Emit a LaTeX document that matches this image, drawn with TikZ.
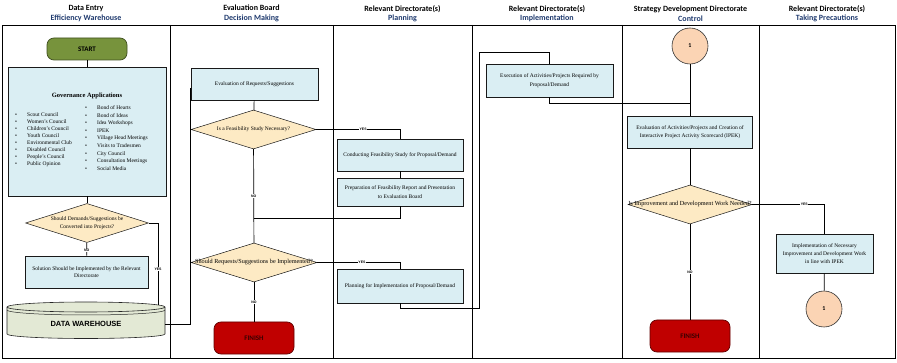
\documentclass[tikz,border=0pt]{standalone}
\usepackage{fontspec}
\setmainfont{Liberation Serif}
\newfontfamily\hdrfont{Carlito}
\newfontfamily\arfont{Liberation Sans}
\usetikzlibrary{shapes.geometric}
\definecolor{boxblue}{HTML}{DAEEF3}
\definecolor{decfill}{HTML}{FDEAC4}
\definecolor{startg}{HTML}{77933C}
\definecolor{startb}{HTML}{3F4F1F}
\definecolor{finr}{HTML}{C00000}
\definecolor{finb}{HTML}{600000}
\definecolor{fintxt}{HTML}{3A0000}
\definecolor{peach}{HTML}{FBD4B4}
\definecolor{dwfill}{HTML}{E3E9D5}
\definecolor{navy}{HTML}{1F3A6E}
\begin{document}
\begin{tikzpicture}[x=1pt,y=-1pt,
  lane/.style={line width=0.7pt, black},
  conn/.style={line width=0.7pt, black},
  procbox/.style={draw=black!90, line width=0.7pt, fill=boxblue, align=center, inner sep=1pt, font=\fontsize{5.5}{8.5}\selectfont},
  decbox/.style={diamond, draw=black!90, line width=0.5pt, fill=decfill, inner sep=0pt},
  dectext/.style={align=center, inner sep=0pt, font=\fontsize{5.5}{8}\selectfont},
  termbox/.style={draw, rounded corners=7pt, line width=0.7pt, minimum width=80pt, font=\hdrfont\bfseries\fontsize{7}{8}\selectfont},
  connc/.style={circle, draw=black!80, line width=0.6pt, fill=peach, minimum size=36pt, inner sep=0pt, font=\hdrfont\bfseries\fontsize{6}{7}\selectfont},
  yn/.style={fill=white, inner sep=0.4pt, font=\arfont\bfseries\fontsize{3.5}{4}\selectfont},
  hdr/.style={align=center, font=\hdrfont\bfseries\fontsize{8}{9.5}\selectfont},
  listtext/.style={align=left, inner sep=0pt, anchor=north west}
]
\useasboundingbox (0,0) rectangle (897,363);
% lanes
\draw[lane] (2,25) -- (895,25) -- (895,358) -- (2,358) -- cycle;
\foreach \xx in {170,333,472,622,759} \draw[lane] (\xx,25) -- (\xx,358);
% headers
\node[hdr] (h1) at (86,13.5) {Data Entry\\\textcolor{navy}{Efficiency Warehouse}};
\node[hdr] (h2) at (251.5,13.5) {Evaluation Board\\\textcolor{navy}{Decision Making}};
\node[hdr] (h3) at (402.5,13.5) {Relevant Directorate(s)\\\textcolor{navy}{Planning}};
\node[hdr] (h4) at (547,13.5) {Relevant Directorate(s)\\\textcolor{navy}{Implementation}};
\node[hdr] (h5) at (690.5,13.5) {Strategy Development Directorate\\\textcolor{navy}{Control}};
\node[hdr] (h6) at (827,13.5) {Relevant Directorate(s)\\\textcolor{navy}{Taking Precautions}};

% lane 1
\node[termbox, fill=startg, draw=startb, minimum height=22pt] (start) at (87,49) {START};
\node[procbox, minimum width=158pt, minimum height=129pt] (gov) at (87,131.5) {};
\node[font=\bfseries\fontsize{6.5}{7}\selectfont, inner sep=0pt] (govt) at (87,96) {Governance Applications};
\node[listtext, font=\fontsize{5.5}{7}\selectfont] (govl) at (15,112.5) {%
\makebox[12pt][l]{\textbullet}Scout Council\\
\makebox[12pt][l]{\textbullet}Women's Council\\
\makebox[12pt][l]{\textbullet}Children's Council\\
\makebox[12pt][l]{\textbullet}Youth Council\\
\makebox[12pt][l]{\textbullet}Environmental Club\\
\makebox[12pt][l]{\textbullet}Disabled Council\\
\makebox[12pt][l]{\textbullet}People's Council\\
\makebox[12pt][l]{\textbullet}Public Opinion};
\node[listtext, font=\fontsize{5.5}{7.6}\selectfont] (govr) at (85,105.5) {%
\makebox[12pt][l]{\textbullet}Bond of Hearts\\
\makebox[12pt][l]{\textbullet}Bond of Ideas\\
\makebox[12pt][l]{\textbullet}Idea Workshops\\
\makebox[12pt][l]{\textbullet}IPEK\\
\makebox[12pt][l]{\textbullet}Village Head Meetings\\
\makebox[12pt][l]{\textbullet}Visits to Tradesmen\\
\makebox[12pt][l]{\textbullet}City Council\\
\makebox[12pt][l]{\textbullet}Consultation Meetings\\
\makebox[12pt][l]{\textbullet}Social Media};
\node[decbox, minimum width=123pt, minimum height=39pt] (d1) at (87,223) {};
\node[dectext] (d1t) at (d1) {Should Demands/Suggestions be\\Converted into Projects?};
\node[procbox, minimum width=123pt, minimum height=32pt, font=\fontsize{5.5}{7}\selectfont] (sol) at (86.5,272) {Solution Should be Implemented by the Relevant\\Directorate};
% data warehouse cylinder
\path[draw=black!85, line width=0.6pt, fill=dwfill] (7,307) -- (7,334)
  arc[start angle=180, end angle=360, x radius=79pt, y radius=4.5pt] -- (165,307)
  arc[start angle=0, end angle=180, x radius=79pt, y radius=5pt] -- cycle;
\draw[black!85, line width=0.6pt] (7,307) arc[start angle=180, end angle=360, x radius=79pt, y radius=5pt];
\draw[black!85, line width=0.5pt] (7,310) arc[start angle=180, end angle=360, x radius=79pt, y radius=5pt];
\node[font=\arfont\bfseries\fontsize{7.5}{9}\selectfont, minimum width=158pt, minimum height=20pt, inner sep=0pt] (dw) at (86,324) {DATA WAREHOUSE};
\coordinate (dwin) at (158,305);

% lane 2
\node[procbox, minimum width=127pt, minimum height=32pt, line width=0.9pt] (eval) at (254.5,84) {Evaluation of Requests/Suggestions};
\node[decbox, minimum width=125pt, minimum height=39pt] (d2) at (253.5,129.5) {};
\node[dectext] (d2t) at (d2) {Is a Feasibility Study Necessary?};
\node[decbox, minimum width=126pt, minimum height=39pt] (d3) at (254,262.5) {};
\node[dectext, font=\fontsize{6.2}{7}\selectfont] (d3t) at (d3) {Should Requests/Suggestions be Implemented?};
\node[termbox, fill=finr, draw=finb, text=fintxt, minimum height=32pt] (fin1) at (254,338) {FINISH};
\coordinate (j1) at (254,218);

% lane 3
\node[procbox, minimum width=126pt, minimum height=32pt] (feas) at (400,155) {Conducting Feasibility Study for Proposal/Demand};
\node[procbox, minimum width=126pt, minimum height=28pt] (prep) at (400,192) {Preparation of Feasibility Report and Presentation\\to Evaluation Board};
\node[procbox, minimum width=126pt, minimum height=34pt] (plan) at (400,286) {Planning for Implementation of Proposal/Demand};

% lane 4
\node[procbox, minimum width=127pt, minimum height=33pt] (exec) at (549.5,80.5) {Execution of Activities/Projects Required by\\Proposal/Demand};
\coordinate (j2) at (690,103);

% lane 5
\node[connc] (c1) at (690,46) {1};
\node[procbox, minimum width=125pt, minimum height=32pt] (ev2) at (690,132) {Evaluation of Activities/Projects and Creation of\\Interactive Project Activity Scorecard (IPEK)};
\node[decbox, minimum width=124pt, minimum height=39pt] (d4) at (690,204.5) {};
\node[dectext, font=\fontsize{6.2}{7}\selectfont] (d4t) at (d4) {Is Improvement and Development Work Needed?};
\node[termbox, fill=finr, draw=finb, text=fintxt, minimum height=32pt] (fin2) at (690,336) {FINISH};

% lane 6
\node[procbox, minimum width=97pt, minimum height=39pt, font=\fontsize{5.5}{8}\selectfont] (impl) at (824.5,253.5) {Implementation of Necessary\\Improvement and Development Work\\in line with IPEK};
\node[connc] (c2) at (824,309) {1};

% connectors
\draw[conn] (start) -- (gov);
\draw[conn] (gov) -- (d1);
\draw[conn] (d1) -- node[yn, pos=0.6] (n1) {NO} (sol);
\draw[conn] (d1.east) -| node[yn, pos=0.78] (y1) {YES} (dwin);
\draw[conn] (dw.east) -- (190,324) |- ([yshift=-4pt]eval.west);
\draw[conn] (eval) -- (d2);
\draw[conn] (d2.east) -| node[yn, pos=0.28] (y2) {YES} (feas.north);
\draw[conn] (d2) -- node[yn, pos=0.5] (n2) {NO} (d3);
\draw[conn] (feas) -- (prep);
\draw[conn] (prep.south) |- (j1);
\draw[conn] (d3) -- node[yn, pos=0.5] (n3) {NO} (fin1);
\draw[conn] (d3.east) -| node[yn, pos=0.27] (y3) {YES} (plan.north);
\draw[conn] (plan.south) -- (400,308) -- (479,308) -- (479,52) -| (exec.north);
\draw[conn] (exec.south) |- (j2);
\draw[conn] (c1) -- (ev2);
\draw[conn] (ev2) -- (d4);
\draw[conn] (d4) -- node[yn, pos=0.5] (n4) {NO} (fin2);
\draw[conn] (d4.east) -| node[yn, pos=0.36] (y4) {YES} (impl.north);
\draw[conn] (impl) -- (c2);
\end{tikzpicture}
\end{document}
